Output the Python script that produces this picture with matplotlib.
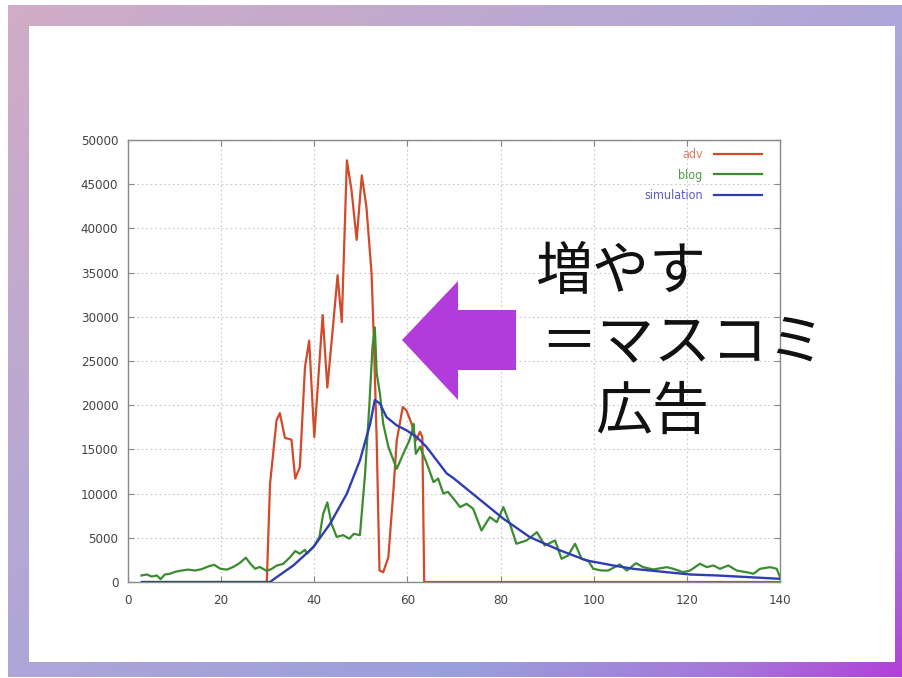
import numpy as np
import matplotlib
matplotlib.use("Agg")
import matplotlib.pyplot as plt
from matplotlib.patches import Polygon, Rectangle
from matplotlib.lines import Line2D
from matplotlib.colors import to_rgb
from matplotlib import font_manager

# ---- series -------------------------------------------------------------
adv_x = [29.8, 30.5, 31.9, 32.6, 33.7, 35.1, 35.9, 36.9, 38.0, 38.9, 40.0,
         41.8, 42.8, 44.0, 45.0, 45.9, 47.0, 48.0, 49.1, 50.2, 51.2, 52.3,
         52.8, 53.4, 54.0, 54.8, 55.9, 57.0, 57.7, 59.0, 59.8, 60.9, 61.8,
         62.7, 63.2, 63.6, 64.0, 140.0]
adv_y = [0, 11100, 18300, 19100, 16300, 16100, 11700, 13000, 24300, 27300,
         16400, 30200, 22000, 28800, 34700, 29400, 47700, 44300, 38700, 46000,
         42400, 34900, 27300, 16000, 1300, 1100, 2800, 10400, 16000, 19800,
         19400, 17900, 16000, 17000, 16400, 0, 0, 0]

blog_x = [2.9, 4.0, 5.1, 6.2, 7.0, 7.9, 9.0, 10.1, 11.5, 12.9, 14.4, 15.8,
          17.2, 18.5, 19.8, 21.2, 22.6, 24.0, 25.3, 26.3, 27.3, 28.3, 29.8,
          30.9, 31.9, 33.3, 34.8, 35.9, 36.9, 38.0, 38.4, 40.0, 41.1, 41.9,
          42.8, 43.7, 44.8, 46.2, 47.5, 48.5, 49.8, 50.9, 51.8, 52.5, 53.0,
          53.4, 54.1, 54.8, 55.9, 57.7, 59.1, 60.4, 61.0, 61.3, 61.8, 62.7,
          64.1, 65.6, 66.6, 67.7, 68.7, 70.2, 71.3, 72.7, 74.1, 75.9, 77.7,
          79.2, 80.6, 82.0, 83.4, 85.6, 87.8, 89.5, 91.7, 93.1, 94.5, 96.0,
          97.4, 98.8, 99.9, 101.7, 103.1, 105.6, 107.1, 109.1, 110.6, 112.8,
          115.7, 117.1, 119.2, 120.7, 122.8, 124.3, 125.7, 127.1, 128.9,
          130.7, 132.8, 134.3, 135.7, 137.9, 139.3, 140.0]
blog_y = [740, 850, 620, 740, 320, 850, 930, 1150, 1300, 1400, 1300, 1450,
          1750, 1950, 1500, 1400, 1700, 2150, 2750, 2050, 1500, 1700, 1250,
          1500, 1850, 2050, 2800, 3500, 3200, 3650, 3200, 4100, 5100, 7700,
          9000, 6600, 5100, 5300, 4900, 5450, 5300, 12200, 19800, 26600, 28800,
          23600, 21300, 17900, 15300, 12800, 14500, 16000, 17000, 17900, 14500,
          15300, 13500, 11300, 11700, 10000, 10200, 9230, 8470, 8850, 8290,
          5830, 7340, 6770, 8470, 6590, 4330, 4700, 5640, 4130, 4700, 2620,
          3000, 4330, 2620, 2430, 1490, 1300, 1300, 1980, 1300, 2130, 1680,
          1420, 1680, 1490, 1110, 1300, 2060, 1680, 1870, 1490, 1870, 1300,
          1110, 930, 1490, 1680, 1490, 540]

sim_x = [3.0, 30.5, 31.9, 35.5, 39.8, 43.4, 47.0, 49.8, 52.0, 53.0, 54.1,
         55.5, 57.7, 59.8, 62.0, 64.1, 66.3, 68.4, 70.0, 74.9, 80.6, 86.3,
         92.8, 98.5, 101.4, 104.2, 108.5, 115.7, 120.7, 126.4, 133.6, 140.0]
sim_y = [0, 0, 540, 1870, 3940, 6590, 10000, 13760, 17900, 20600, 20180,
         18660, 17720, 17160, 16400, 15270, 13760, 12300, 11700, 9600, 7160,
         5070, 3570, 2430, 2150, 1870, 1490, 1110, 850, 740, 540, 360]

series_labels = ["adv", "blog", "simulation"]
line_colors = ["#d24a2a", "#3b8b2f", "#2f3db5"]
text_colors = ["#e07a5c", "#4f9f48", "#5a5ac4"]

x_ticks = [0, 20, 40, 60, 80, 100, 120, 140]
y_ticks = [0, 5000, 10000, 15000, 20000, 25000, 30000, 35000, 40000, 45000, 50000]

slide_lines = ["増やす", "＝マスコミ", "広告"]

# ---- figure ---------------------------------------------------------------
W, H = 903, 678
fig = plt.figure(figsize=(W / 100, H / 100), dpi=100, facecolor="white")


def fx(x):
    return x / W


def fy(y):
    return 1 - y / H


# gradient frame of the slide
bg = fig.add_axes([0, 0, 1, 1], zorder=0)
bg.set_axis_off()
bg.set_xlim(0, W)
bg.set_ylim(H, 0)
gx, gy = np.meshgrid(np.linspace(0, 1, 400), np.linspace(0, 1, 300))
t = (gx + gy) / 2
stops = [0.0, 0.5, 0.75, 0.9, 1.0]
cols = np.array([to_rgb(c) for c in ["#d1adc6", "#aea6d8", "#9a9fdc", "#a676d9", "#b23ed8"]])
img = np.stack([np.interp(t, stops, cols[:, k]) for k in range(3)], axis=-1)
bg.imshow(img, extent=(8, W, H - 1, 5), aspect="auto", interpolation="bilinear")
bg.add_patch(Rectangle((29, 26), 866, 636, facecolor="white", edgecolor="none"))

# ---- chart ----------------------------------------------------------------
ax = fig.add_axes([fx(128), fy(582), (780 - 128) / W, (582 - 140) / H], zorder=2)
ax.set_facecolor("white")
ax.set_xlim(0, 140)
ax.set_ylim(0, 50000)

ax.plot(adv_x, adv_y, color=line_colors[0], lw=1.6, zorder=3, solid_joinstyle="round")
ax.plot(blog_x, blog_y, color=line_colors[1], lw=1.6, zorder=4, solid_joinstyle="round")
ax.plot(sim_x, sim_y, color=line_colors[2], lw=1.7, zorder=5, solid_joinstyle="round")

tick_prop = font_manager.FontProperties(family="DejaVu Sans", stretch="condensed", size=9.5)
ax.set_xticks(x_ticks)
ax.set_yticks(y_ticks)
ax.set_xticklabels([str(v) for v in x_ticks], fontproperties=tick_prop, color="#444444")
ax.set_yticklabels([str(v) for v in y_ticks], fontproperties=tick_prop, color="#444444")
ax.tick_params(direction="in", length=4, width=0.8, color="#888888",
               top=True, right=True)
ax.tick_params(axis="x", pad=9)
ax.tick_params(axis="y", pad=7)
for s in ax.spines.values():
    s.set_color("#8a8a8a")
    s.set_linewidth(1.0)
ax.grid(True, color="#c8c8c8", lw=0.8, linestyle=(0, (1.5, 2.5)))
ax.set_axisbelow(True)

handles = [Line2D([], [], color=c, lw=1.6) for c in line_colors]
leg_prop = font_manager.FontProperties(family="DejaVu Sans", stretch="condensed", size=9)
leg = ax.legend(handles, series_labels, loc="upper right", frameon=False,
                markerfirst=False, handlelength=3.8, labelspacing=0.6,
                borderaxespad=0.0, borderpad=0.0,
                bbox_to_anchor=(1 - 18 / 652, 1 - 8 / 442),
                handletextpad=0.95, prop=leg_prop)
for txt, c in zip(leg.get_texts(), text_colors):
    txt.set_color(c)

# ---- annotation -----------------------------------------------------------
arrow_pts = [(402, 340), (458, 281), (458, 310), (516, 310),
             (516, 370), (458, 370), (458, 400)]
fig.patches.append(Polygon([(fx(x), fy(y)) for x, y in arrow_pts], closed=True,
                           transform=fig.transFigure, facecolor="#b23cdb",
                           edgecolor="none", zorder=6))

jp_font = ["Noto Sans CJK JP", "DejaVu Sans"]
for (x, y), s in zip([(535, 289), (540, 359), (595, 429)], slide_lines):
    fig.text(fx(x), fy(y), s, family=jp_font, fontsize=41, color="#111111",
             ha="left", va="baseline", zorder=7)

fig.savefig("out.png", dpi=100, facecolor="white")
